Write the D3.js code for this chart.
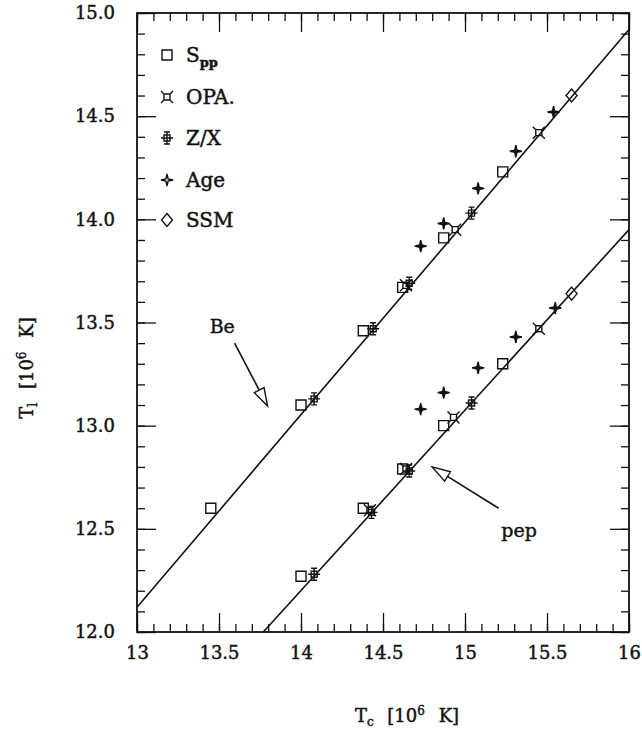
<!DOCTYPE html>
<html>
<head>
<meta charset="utf-8">
<script src="https://cdn.jsdelivr.net/npm/d3@7"></script>
<style>
    body { margin: 0; background: #fff; }
    svg text { font-family: "DejaVu Serif", serif; fill: #111; stroke: #111; stroke-width: 0.45px; }
</style>
</head>
<body>
<svg></svg>
<script>
// точки (Tc, Tl) для линии Be
let sppBe = [[13.45, 12.60], [14.00, 13.10], [14.38, 13.46], [14.62, 13.67], [14.87, 13.91], [15.23, 14.23]];
let opaBe = [[14.64, 13.68], [14.94, 13.95], [15.45, 14.42]];
let zxBe = [[14.08, 13.13], [14.44, 13.47], [14.66, 13.69], [15.04, 14.03]];
let ageBe = [[14.73, 13.87], [14.87, 13.98], [15.08, 14.15], [15.31, 14.33], [15.54, 14.52]];
let ssmBe = [[15.65, 14.60]];

// точки для линии pep
let sppPep = [[14.00, 12.27], [14.38, 12.60], [14.62, 12.79], [14.87, 13.00], [15.23, 13.30]];
let opaPep = [[14.64, 12.79], [14.42, 12.59], [14.93, 13.04], [15.45, 13.47]];
let zxPep = [[14.08, 12.28], [14.43, 12.58], [14.66, 12.78], [15.04, 13.11]];
let agePep = [[14.73, 13.08], [14.87, 13.16], [15.08, 13.28], [15.31, 13.43], [15.55, 13.57]];
let ssmPep = [[15.65, 13.64]];

// прямые
let lineBe = [[13.0, 12.12], [16.0, 14.92]];
let linePep = [[13.77, 12.0], [16.0, 13.95]];

// подписи и стрелки: [хвост, острие]
let arrowBe = [[13.595, 13.40], [13.796, 13.095]];
let arrowPep = [[15.205, 12.60], [14.80, 12.80]];
let labelBe = [13.52, 13.45];
let labelPep = [15.33, 12.46];

let xTicks = [13, 13.5, 14, 14.5, 15, 15.5, 16];
let yTicks = [12.0, 12.5, 13.0, 13.5, 14.0, 14.5, 15.0];
let legendNames = ["S", "OPA.", "Z/X", "Age", "SSM"];

let width = 642;
let height = 729;
let pLeft = 137, pTop = 13, pRight = 629, pBottom = 632;

let svg = d3.select("svg")
    .attr("width", width)
    .attr("height", height);

let scaleX = d3.scaleLinear().domain([13, 16]).range([pLeft, pRight]);
let scaleY = d3.scaleLinear().domain([12, 15]).range([pBottom, pTop]);

// маркеры
let markers = {
    spp: "M-5,-5h10v10h-10Z",
    opa: "M-3,-3h6v6h-6Z M-3,-3L-6,-6 M3,-3L6,-6 M3,3L6,6 M-3,3L-6,6",
    zx: "M0,-6V6 M-3,-6H3 M-3,6H3 M-6,0H6 M-3,-3h6v6h-6Z",
    age: "M0,-6L1.1,-1.1L6,0L1.1,1.1L0,6L-1.1,1.1L-6,0L-1.1,-1.1Z",
    ssm: "M0,-6.5L5.5,0L0,6.5L-5.5,0Z"
};
let markerKeys = ["spp", "opa", "zx", "age", "ssm"];

// оси (засечки внутрь)
let minorX = d3.range(13, 16.001, 0.1).map(v => +v.toFixed(1));
let minorY = d3.range(12, 15.001, 0.1).map(v => +v.toFixed(1));

function addAxis(axis, tx, ty) {
    let g = svg.append("g")
        .attr("transform", `translate(${tx}, ${ty})`)
        .call(axis);
    g.select(".domain").remove();
    g.selectAll("line").attr("stroke", "#111").attr("stroke-width", 1.3);
    return g;
}

addAxis(d3.axisBottom(scaleX).tickValues(minorX).tickSize(-8).tickFormat(""), 0, pBottom);
addAxis(d3.axisTop(scaleX).tickValues(minorX).tickSize(-8).tickFormat(""), 0, pTop);
addAxis(d3.axisLeft(scaleY).tickValues(minorY).tickSize(-8).tickFormat(""), pLeft, 0);
addAxis(d3.axisRight(scaleY).tickValues(minorY).tickSize(-8).tickFormat(""), pRight, 0);

let gx = addAxis(d3.axisBottom(scaleX).tickValues(xTicks).tickSize(-19).tickPadding(14).tickFormat(d3.format("~g")), 0, pBottom);
addAxis(d3.axisTop(scaleX).tickValues(xTicks).tickSize(-19).tickFormat(""), 0, pTop);
let gy = addAxis(d3.axisLeft(scaleY).tickValues(yTicks).tickSize(-19).tickPadding(22).tickFormat(d3.format(".1f")), pLeft, 0);
addAxis(d3.axisRight(scaleY).tickValues(yTicks).tickSize(-19).tickFormat(""), pRight, 0);

gx.selectAll("text").style("font-size", "18px").style("font-family", "DejaVu Serif");
gy.selectAll("text").style("font-size", "18px").style("font-family", "DejaVu Serif");

// рамка
svg.append("rect")
    .attr("x", pLeft).attr("y", pTop)
    .attr("width", pRight - pLeft).attr("height", pBottom - pTop)
    .attr("fill", "none")
    .attr("stroke", "#111")
    .attr("stroke-width", 1.8);

// прямые
let lineF = d3.line()
    .x(d => scaleX(d[0]))
    .y(d => scaleY(d[1]));

[lineBe, linePep].forEach(l => {
    svg.append("path")
        .datum(l)
        .attr("d", lineF)
        .attr("fill", "none")
        .attr("stroke", "#111")
        .attr("stroke-width", 1.6);
});

// точки
function drawPoints(data, key) {
    svg.append("g").selectAll("path")
        .data(data)
        .join("path")
        .attr("d", markers[key])
        .attr("transform", d => `translate(${scaleX(d[0])}, ${scaleY(d[1])})`)
        .attr("fill", key == "age" ? "#111" : "none")
        .attr("stroke", "#111")
        .attr("stroke-width", 1.4);
}

drawPoints(sppBe, "spp"); drawPoints(opaBe, "opa"); drawPoints(zxBe, "zx"); drawPoints(ageBe, "age"); drawPoints(ssmBe, "ssm");
drawPoints(sppPep, "spp"); drawPoints(opaPep, "opa"); drawPoints(zxPep, "zx"); drawPoints(agePep, "age"); drawPoints(ssmPep, "ssm");

// стрелки с открытым наконечником
function drawArrow(a) {
    let x1 = scaleX(a[0][0]), y1 = scaleY(a[0][1]);
    let x2 = scaleX(a[1][0]), y2 = scaleY(a[1][1]);
    let ang = Math.atan2(y2 - y1, x2 - x1);
    let len = 18, hw = 5.5;
    let bx = x2 - len * Math.cos(ang), by = y2 - len * Math.sin(ang);
    svg.append("line")
        .attr("x1", x1).attr("y1", y1).attr("x2", bx).attr("y2", by)
        .attr("stroke", "#111").attr("stroke-width", 1.6);
    let px = -Math.sin(ang) * hw, py = Math.cos(ang) * hw;
    svg.append("path")
        .attr("d", `M${x2},${y2}L${bx + px},${by + py}L${bx - px},${by - py}Z`)
        .attr("fill", "#fff")
        .attr("stroke", "#111")
        .attr("stroke-width", 1.4);
}
drawArrow(arrowBe);
drawArrow(arrowPep);

svg.append("text")
    .attr("x", scaleX(labelBe[0])).attr("y", scaleY(labelBe[1]))
    .attr("text-anchor", "middle")
    .style("font-size", "19px")
    .text("Be");
svg.append("text")
    .attr("x", scaleX(labelPep[0])).attr("y", scaleY(labelPep[1]))
    .attr("text-anchor", "middle")
    .style("font-size", "19px")
    .text("pep");

// легенда
let legY = [55, 97, 138, 180, 220];
legendNames.forEach((name, i) => {
    svg.append("path")
        .attr("d", markers[markerKeys[i]])
        .attr("transform", `translate(167, ${legY[i]})`)
        .attr("fill", "none")
        .attr("stroke", "#111")
        .attr("stroke-width", 1.4);
    let t = svg.append("text")
        .attr("x", 186).attr("y", legY[i] + 7)
        .style("font-size", "20px")
        .text(name);
    if (i == 0) {
        t.append("tspan")
            .attr("dy", 5)
            .style("font-size", "13px")
            .style("font-weight", "bold")
            .text("pp");
    }
});

// подписи осей
let xl = svg.append("text")
    .attr("x", 407).attr("y", 722)
    .attr("text-anchor", "middle")
    .style("font-size", "18px")
    .style("word-spacing", "8px");
xl.append("tspan").text("T");
xl.append("tspan").attr("dy", 4).style("font-size", "12px").text("c");
xl.append("tspan").attr("dy", -4).text(" [10");
xl.append("tspan").attr("dy", -7).style("font-size", "12px").text("6");
xl.append("tspan").attr("dy", 7).text(" K]");

let yl = svg.append("text")
    .attr("transform", "translate(33, 368) rotate(-90)")
    .attr("text-anchor", "middle")
    .style("font-size", "18px")
    .style("word-spacing", "8px");
yl.append("tspan").text("T");
yl.append("tspan").attr("dy", 4).style("font-size", "12px").text("l");
yl.append("tspan").attr("dy", -4).text(" [10");
yl.append("tspan").attr("dy", -7).style("font-size", "12px").text("6");
yl.append("tspan").attr("dy", 7).text(" K]");
</script>
</body>
</html>
